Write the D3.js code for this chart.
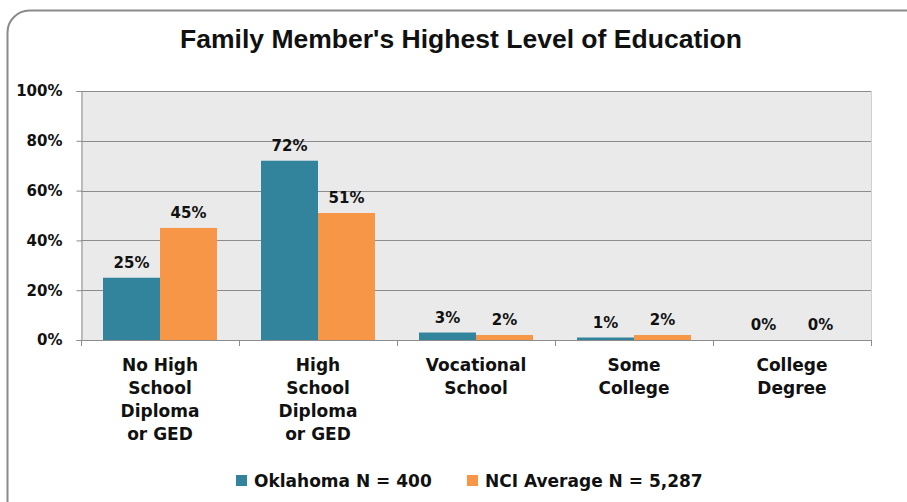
<!DOCTYPE html>
<html>
<head>
<meta charset="utf-8">
<script src="https://cdn.jsdelivr.net/npm/d3@7"></script>
<style>
  body { margin: 0; background: #fff; }
  svg text { font-family: "DejaVu Sans", Verdana, sans-serif; font-weight: bold; fill: #111; }
</style>
</head>
<body>
<div id="viz_container"></div>
<script>
// chart data
const categories = [
  ["No High", "School", "Diploma", "or GED"],
  ["High", "School", "Diploma", "or GED"],
  ["Vocational", "School"],
  ["Some", "College"],
  ["College", "Degree"]
];
const seriesNames = ["Oklahoma N = 400", "NCI Average N = 5,287"];
const oklahoma = [25, 72, 3, 1, 0];
const nciAverage = [45, 51, 2, 2, 0];
const yTicks = [0, 20, 40, 60, 80, 100];

const colors = ["#31849B", "#F79646"];

const W = 907, H = 502;
const svg = d3.select("#viz_container")
  .append("svg")
    .attr("width", W)
    .attr("height", H);

// outer chart frame (rounded, runs off the right and bottom)
svg.append("rect")
  .attr("x", 7.5).attr("y", 10.5)
  .attr("width", 920).attr("height", 540)
  .attr("rx", 22).attr("ry", 22)
  .attr("fill", "#fff")
  .attr("stroke", "#8a8a8a")
  .attr("stroke-width", 2);

// title
svg.append("text")
  .attr("x", 461).attr("y", 48)
  .attr("text-anchor", "middle")
  .attr("textLength", 562)
  .attr("lengthAdjust", "spacingAndGlyphs")
  .style("font-family", "'Liberation Sans', Arial, sans-serif")
  .style("font-size", "25px")
  .text("Family Member's Highest Level of Education");

const plot = { left: 81, right: 871, top: 91, bottom: 340 };

const x0 = d3.scaleBand()
  .domain(d3.range(categories.length))
  .range([plot.left, plot.right])
  .paddingInner(0)
  .paddingOuter(0);

const x1 = d3.scaleBand()
  .domain([0, 1])
  .range([22, x0.bandwidth() - 22]);

const y = d3.scaleLinear()
  .domain([0, 100])
  .range([plot.bottom, plot.top]);

// plot background
svg.append("rect")
  .attr("x", plot.left).attr("y", plot.top)
  .attr("width", plot.right - plot.left)
  .attr("height", plot.bottom - plot.top)
  .attr("fill", "#eaeaea");

// gridlines
svg.append("g")
  .selectAll("line")
  .data(yTicks.filter(d => d > 0))
  .join("line")
    .attr("x1", plot.left).attr("x2", plot.right)
    .attr("y1", d => Math.round(y(d)) + 0.5)
    .attr("y2", d => Math.round(y(d)) + 0.5)
    .attr("stroke", "#8c8c8c")
    .attr("stroke-width", 1);

// right edge of plot
svg.append("line")
  .attr("x1", plot.right + 0.5).attr("x2", plot.right + 0.5)
  .attr("y1", plot.top).attr("y2", plot.bottom)
  .attr("stroke", "#d0d0d0");

// bars
const series = [oklahoma, nciAverage];
svg.append("g")
  .selectAll("g")
  .data(series)
  .join("g")
    .attr("fill", (d, i) => colors[i])
  .selectAll("rect")
  .data((d, i) => d.map((v, j) => ({ v, j, s: i })))
  .join("rect")
    .attr("x", d => x0(d.j) + x1(d.s))
    .attr("y", d => y(d.v))
    .attr("width", x1.bandwidth())
    .attr("height", d => Math.max(0, y(0) - y(d.v)));

// value labels
svg.append("g")
  .selectAll("text")
  .data(series.flatMap((d, i) => d.map((v, j) => ({ v, j, s: i }))))
  .join("text")
    .attr("x", d => x0(d.j) + x1(d.s) + x1.bandwidth() / 2)
    .attr("y", d => y(d.v) - 10)
    .attr("text-anchor", "middle")
    .style("font-size", "15px")
    .text(d => d.v + "%");

// y axis
const yAxis = svg.append("g")
  .attr("transform", `translate(${plot.left + 0.5},0)`)
  .call(d3.axisLeft(y).tickValues(yTicks).tickSize(5).tickPadding(14).tickFormat(d => d + "%"));
yAxis.select(".domain").attr("stroke", "#8c8c8c");
yAxis.selectAll(".tick line").attr("stroke", "#8c8c8c");
yAxis.selectAll(".tick text")
  .style("font-size", "15px")
  .attr("fill", "#111");

// x axis line with ticks at category boundaries
const xAxis = svg.append("g");
xAxis.append("line")
  .attr("x1", plot.left).attr("x2", plot.right + 1)
  .attr("y1", plot.bottom + 0.5).attr("y2", plot.bottom + 0.5)
  .attr("stroke", "#8c8c8c");
xAxis.selectAll(".bt")
  .data(d3.range(categories.length + 1))
  .join("line")
    .attr("class", "bt")
    .attr("x1", d => (d < categories.length ? x0(d) : plot.right) + 0.5)
    .attr("x2", d => (d < categories.length ? x0(d) : plot.right) + 0.5)
    .attr("y1", plot.bottom).attr("y2", plot.bottom + 6)
    .attr("stroke", "#8c8c8c");

// category labels
const catText = svg.append("g")
  .selectAll("text")
  .data(categories)
  .join("text")
    .attr("x", (d, i) => x0(i) + x0.bandwidth() / 2)
    .attr("y", 371)
    .attr("text-anchor", "middle")
    .style("font-size", "17px");
catText.selectAll("tspan")
  .data(d => d)
  .join("tspan")
    .attr("x", function () { return d3.select(this.parentNode).attr("x"); })
    .attr("dy", (d, i) => i === 0 ? 0 : 23)
    .text(d => d);

// legend
const legendX = [236, 467];
const legend = svg.append("g")
  .selectAll("g")
  .data(seriesNames)
  .join("g")
    .attr("transform", (d, i) => `translate(${legendX[i]},475)`);
legend.append("rect")
  .attr("width", 11).attr("height", 11)
  .attr("fill", (d, i) => colors[i]);
legend.append("text")
  .attr("x", 18).attr("y", 12)
  .style("font-size", "17px")
  .text(d => d);
</script>
</body>
</html>
